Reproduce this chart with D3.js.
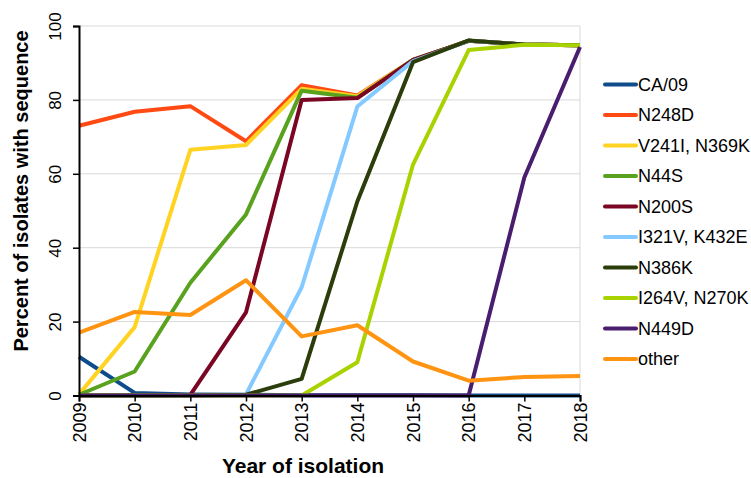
<!DOCTYPE html>
<html>
<head>
<meta charset="utf-8">
<script src="https://cdn.jsdelivr.net/npm/d3@7"></script>
<style>
  body { margin: 0; background: #fff; }
  svg { display: block; font-family: "Liberation Sans", Arial, sans-serif; }
</style>
</head>
<body>
<svg id="chart" width="751" height="478"></svg>
<script>
const years = [2009, 2010, 2011, 2012, 2013, 2014, 2015, 2016, 2017, 2018];
const yTicks = [0, 20, 40, 60, 80, 100];

const seriesNames = ["CA/09", "N248D", "V241I, N369K", "N44S", "N200S", "I321V, K432E", "N386K", "I264V, N270K", "N449D", "other"];
const seriesColors = ["#0E4C8C", "#FF4A14", "#FFD322", "#58A21E", "#7A0624", "#84C9FF", "#2C3D0C", "#A9D300", "#4A1E6E", "#FF9412"];

const ca09   = [10.5, 0.7, 0.3, 0.2, 0.1, 0.1, 0.1, 0, 0, 0];
const n248d  = [73, 76.8, 78.3, 68.8, 84, 81.2, 90.8, 96, 95, 94.8];
const v241i  = [0.3, 18.5, 66.5, 67.8, 83, 81, 90.8, 96, 95, 94.8];
const n44s   = [0.2, 6.5, 30.5, 49, 82.5, 80.6, 90.8, 96, 95, 94.8];
const n200s  = [0, 0.1, 0.2, 22.5, 80, 80.5, 90.8, 96, 95, 94.8];
const i321v  = [0, 0, 0, 0.3, 29.3, 78.2, 90.5, 96, 95, 94.8];
const n386k  = [0, 0, 0, 0.2, 4.5, 52.5, 90.2, 96.1, 95, 94.8];
const i264v  = [0, 0, 0, 0, 0, 9, 62.5, 93.5, 94.9, 94.8];
const n449d  = [0, 0, 0, 0, 0, 0, 0, 0, 59, 94.3];
const other  = [17, 22.6, 21.8, 31.2, 16, 19, 9.2, 4, 5, 5.3];

const seriesValues = [ca09, n248d, v241i, n44s, n200s, i321v, n386k, i264v, n449d, other];

(function () {
const svg = d3.select("#chart");
const mLeft = 79, mRight = 580, mTop = 26, mBottom = 395.5;

const x = d3.scaleLinear().domain([2009, 2018]).range([mLeft, mRight]);
const y = d3.scaleLinear().domain([0, 100]).range([mBottom, mTop]);

// grid
svg.append("g").selectAll("line").data(yTicks.filter(d => d > 0)).join("line")
  .attr("x1", mLeft).attr("x2", mRight)
  .attr("y1", d => y(d)).attr("y2", d => y(d))
  .attr("stroke", "#D9D9D9").attr("stroke-width", 1);
// right border
svg.append("line").attr("x1", mRight).attr("x2", mRight).attr("y1", mTop).attr("y2", mBottom)
  .attr("stroke", "#D9D9D9").attr("stroke-width", 1);

// lines
const line = d3.line().x((d, i) => x(years[i])).y(d => y(d));
seriesValues.forEach((vals, k) => {
  svg.append("path").datum(vals)
    .attr("d", line)
    .attr("fill", "none")
    .attr("stroke", seriesColors[k])
    .attr("stroke-width", 4)
    .attr("stroke-linejoin", "round");
});

// y axis
const yAxis = svg.append("g").attr("transform", `translate(${mLeft},0)`)
  .call(d3.axisLeft(y).tickValues(yTicks).tickSize(6).tickPadding(4));
yAxis.select(".domain").attr("stroke", "#000").attr("stroke-width", 2);
yAxis.selectAll(".tick line").attr("stroke", "#000").attr("stroke-width", 1.5);
yAxis.selectAll(".tick text")
  .attr("font-size", 17).attr("fill", "#000")
  .attr("x", 0).attr("y", 0).attr("dy", "0.35em").attr("text-anchor", "middle")
  .attr("transform", "translate(-24,0) rotate(-90)");

// x axis
const xAxis = svg.append("g").attr("transform", `translate(0,${mBottom})`)
  .call(d3.axisBottom(x).tickValues(years).tickFormat(d3.format("d")).tickSize(6));
xAxis.select(".domain").attr("stroke", "#000").attr("stroke-width", 2);
xAxis.selectAll(".tick line").attr("stroke", "#000").attr("stroke-width", 1.5);
xAxis.selectAll(".tick text")
  .attr("font-size", 18).attr("fill", "#000")
  .attr("text-anchor", "end")
  .attr("x", 0).attr("y", 0).attr("dy", "0.35em")
  .attr("transform", "translate(0,7) rotate(-90)");

// axis titles
svg.append("text")
  .attr("transform", `translate(21,191) rotate(-90)`)
  .attr("text-anchor", "middle").attr("dy", "0.35em")
  .attr("font-size", 20).attr("font-weight", "bold")
  .text("Percent of isolates with sequence");
svg.append("text")
  .attr("x", 303).attr("y", 466).attr("dy", "0.35em")
  .attr("text-anchor", "middle")
  .attr("font-size", 21).attr("font-weight", "bold")
  .text("Year of isolation");

// legend
const lg = svg.append("g").selectAll("g").data(seriesNames).join("g")
  .attr("transform", (d, i) => `translate(605,${84.5 + i * 30.5})`);
lg.append("line").attr("x1", 0).attr("x2", 31).attr("y1", 0).attr("y2", 0)
  .attr("stroke", (d, i) => seriesColors[i]).attr("stroke-width", 4).attr("stroke-linecap", "round");
lg.append("text").attr("x", 33).attr("y", 0).attr("dy", "0.35em")
  .attr("font-size", 18).attr("fill", "#000")
  .text(d => d);
})();
</script>
</body>
</html>
